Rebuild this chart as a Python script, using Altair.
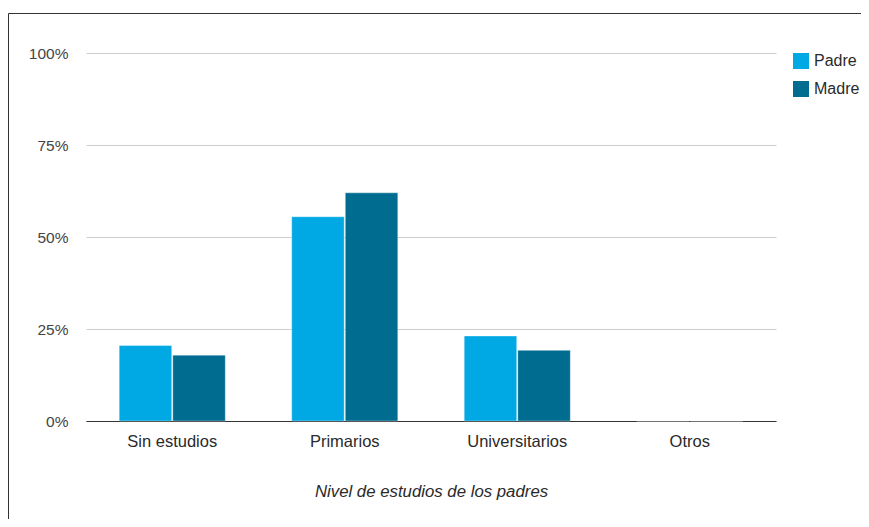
import altair as alt
import pandas as pd

categories = ["Sin estudios", "Primarios", "Universitarios", "Otros"]
padre = [0.205, 0.555, 0.231, 0.0]
madre = [0.179, 0.620, 0.192, 0.0]
series = ["Padre", "Madre"]
colors = ["#00A8E4", "#006C8F"]

rows = []
for c, p, m in zip(categories, padre, madre):
    rows.append({"nivel": c, "serie": "Padre", "valor": p})
    rows.append({"nivel": c, "serie": "Madre", "valor": m})
df = pd.DataFrame(rows)

FONT = "Liberation Sans"

bars = alt.Chart(df).mark_bar(stroke="#ffffff", strokeWidth=0.6, strokeOpacity=0.6).encode(
    x=alt.X("nivel:N", sort=categories,
            scale=alt.Scale(paddingInner=0.385, paddingOuter=0.1925),
            axis=alt.Axis(title="Nivel de estudios de los padres", labelAngle=0,
                          labelFontSize=16.5, labelColor="#2a2a2a", labelPadding=12,
                          labelFont=FONT, ticks=False, domainColor="#333333",
                          titleFont=FONT, titleFontSize=16.8, titleFontStyle="italic",
                          titleFontWeight="normal", titleColor="#2a2a2a", titlePadding=34)),
    xOffset=alt.XOffset("serie:N", sort=series, scale=alt.Scale(paddingInner=0.02)),
    y=alt.Y("valor:Q", scale=alt.Scale(domain=[0, 1]),
            axis=alt.Axis(title=None, format=".0%", values=[0, 0.25, 0.5, 0.75, 1],
                          labelFontSize=15.5, labelColor="#444444", labelFont=FONT,
                          labelPadding=18, ticks=False, domain=False,
                          gridColor="#cccccc")),
    color=alt.Color("serie:N", sort=series,
                    scale=alt.Scale(domain=series, range=colors),
                    legend=alt.Legend(title=None, orient="none", legendX=707, legendY=0,
                                      symbolType="square", symbolSize=256,
                                      symbolStrokeWidth=0, labelFontSize=16,
                                      labelFont=FONT, labelColor="#2a2a2a",
                                      rowPadding=12, labelOffset=5)),
)

frame = pd.DataFrame({"k": [0]})
left_edge = alt.Chart(frame).mark_rule(color="#333333", strokeWidth=1).encode(
    x=alt.value(-77.5), y=alt.value(-39.5), y2=alt.value(520),
)
top_edge = alt.Chart(frame).mark_rule(color="#333333", strokeWidth=1).encode(
    x=alt.value(-77.5), x2=alt.value(800), y=alt.value(-39.5),
)

chart = alt.layer(bars, left_edge, top_edge).properties(
    width=690, height=368,
    autosize=alt.AutoSizeParams(type="none"),
    padding={"left": 78, "top": 45, "right": 85, "bottom": 98},
).configure(font=FONT).configure_view(stroke=None)

chart.save("out.html", embed_options={"renderer": "svg", "actions": False})
